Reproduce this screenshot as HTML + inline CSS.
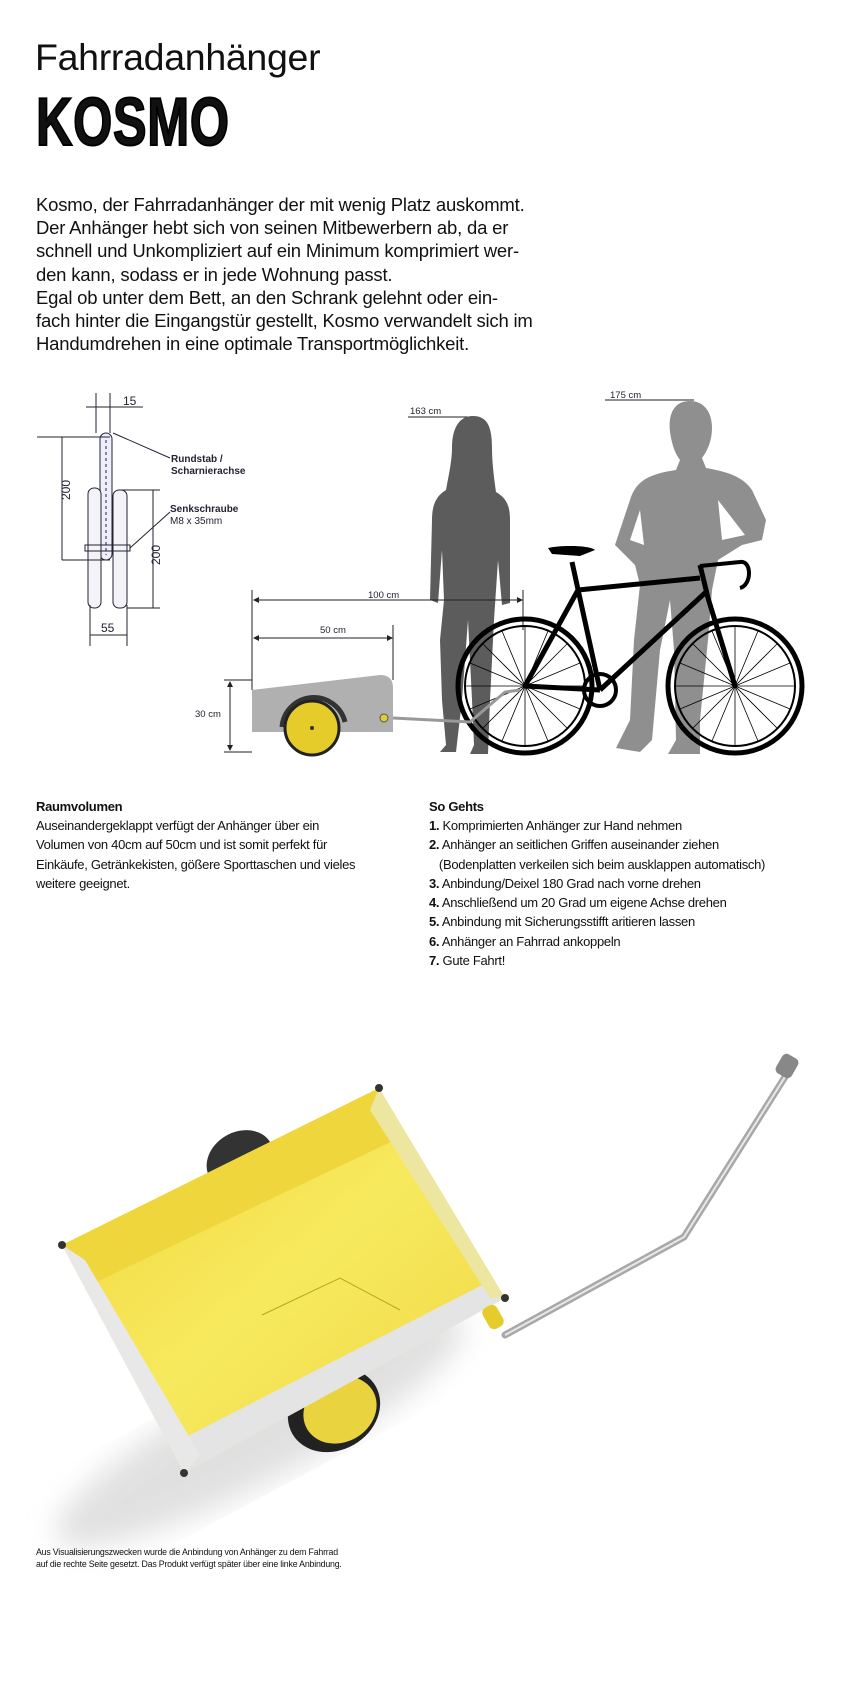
<!DOCTYPE html>
<html><head><meta charset="utf-8"><style>
html,body{margin:0;padding:0;background:#fff}
body{width:842px;height:1701px;position:relative;overflow:hidden;font-family:"Liberation Sans",sans-serif;color:#111}
.a{position:absolute;white-space:nowrap}
.p{font-size:18.5px;line-height:23.2px;left:36px;top:193px;letter-spacing:-0.2px}
.s{font-size:13px;line-height:19.3px;letter-spacing:-0.3px}
.b{font-weight:bold}
</style></head><body>
<div class="a" style="left:35px;top:36px;font-size:37.5px;letter-spacing:-0.3px">Fahrradanhänger</div>
<div class="a b" style="left:36px;top:88px;font-size:68px;line-height:68px;transform:scaleX(0.74);transform-origin:left top;-webkit-text-stroke:2px #000;letter-spacing:1px">KOSMO</div>
<div class="a p">Kosmo, der Fahrradanhänger der mit wenig Platz auskommt.<br>Der Anhänger hebt sich von seinen Mitbewerbern ab, da er<br>schnell und Unkompliziert auf ein Minimum komprimiert wer-<br>den kann, sodass er in jede Wohnung passt.<br>Egal ob unter dem Bett, an den Schrank gelehnt oder ein-<br>fach hinter die Eingangstür gestellt, Kosmo verwandelt sich im<br>Handumdrehen in eine optimale Transportmöglichkeit.</div>

<svg class="a" style="left:0;top:0" width="842" height="1701" viewBox="0 0 842 1701">
<defs>
<filter id="bl"><feGaussianBlur stdDeviation="14"/></filter>
<linearGradient id="yl" x1="0" y1="0" x2="1" y2="1"><stop offset="0" stop-color="#f2d63a"/><stop offset="0.5" stop-color="#f7e95e"/><stop offset="1" stop-color="#eed640"/></linearGradient>
</defs>
<g stroke="#223" stroke-width="1" fill="none">
<line x1="96" y1="393" x2="96" y2="433"/><line x1="110" y1="393" x2="110" y2="433"/>
<line x1="86" y1="407" x2="143" y2="407"/>
<rect x="100" y="433" width="12" height="127" rx="6" fill="#eef"/>
<line x1="106" y1="440" x2="106" y2="555" stroke-dasharray="3 3"/>
<rect x="88" y="488" width="13" height="120" rx="6" fill="#f4f4f8"/>
<rect x="113" y="490" width="14" height="118" rx="6" fill="#f4f4f8"/>
<rect x="85" y="545" width="45" height="6"/>
<line x1="37" y1="437" x2="110" y2="437"/><line x1="62" y1="437" x2="62" y2="560"/><line x1="62" y1="560" x2="110" y2="560"/>
<line x1="120" y1="490" x2="160" y2="490"/><line x1="153" y1="490" x2="153" y2="608"/><line x1="127" y1="608" x2="160" y2="608"/>
<line x1="90" y1="605" x2="90" y2="646"/><line x1="127" y1="605" x2="127" y2="646"/><line x1="90" y1="635" x2="127" y2="635"/>
<line x1="113" y1="433" x2="170" y2="458"/><line x1="130" y1="548" x2="170" y2="512"/>
</g>
<g font-family="Liberation Sans,sans-serif" fill="#223">
<text x="123" y="405" font-size="12">15</text>
<text x="60" y="510" font-size="12" transform="rotate(-90 60 500)">200</text>
<text x="150" y="575" font-size="12" transform="rotate(-90 150 565)">200</text>
<text x="101" y="632" font-size="12">55</text>
<text x="171" y="462" font-size="10" font-weight="bold">Rundstab /</text>
<text x="171" y="474" font-size="10" font-weight="bold">Scharnierachse</text>
<text x="170" y="512" font-size="10" font-weight="bold">Senkschraube</text>
<text x="170" y="524" font-size="10">M8 x 35mm</text>
<text x="410" y="414" font-size="9.5">163 cm</text>
<text x="610" y="398" font-size="9.5">175 cm</text>
<text x="368" y="598" font-size="9.5">100 cm</text>
<text x="320" y="633" font-size="9.5">50 cm</text>
<text x="195" y="717" font-size="9.5">30 cm</text>
</g>
<g stroke="#222" stroke-width="1"><line x1="408" y1="417" x2="477" y2="417"/><line x1="605" y1="400" x2="694" y2="400"/></g>
<path fill="#5c5c5c" d="M473 416 C458 416 452 430 452 448 C452 462 448 478 446 490 C436 496 432 505 432 520 L430 600 L438 603 L442 550 L444 600 L440 640 L442 700 L446 745 L440 752 L456 752 L462 700 L468 620 L472 700 L474 745 L470 754 L488 754 L490 700 L494 620 L498 560 L502 605 L510 603 L510 520 C510 505 506 498 496 492 C494 478 492 462 492 448 C492 428 488 416 473 416Z"/>
<path fill="#8f8f8f" d="M690 401 C674 401 668 414 670 432 C672 446 676 455 680 460 L676 470 C650 474 636 480 630 500 L615 545 L635 565 L640 585 L634 640 L630 720 L616 748 L640 752 L652 740 L660 650 L670 600 L674 650 L676 740 L668 754 L700 754 L700 720 L708 640 L712 590 L718 560 L742 545 L762 540 L766 520 L752 490 C744 478 730 472 706 468 L702 458 C708 450 712 440 712 428 C712 412 704 401 690 401Z M640 510 L644 545 L630 540Z M718 500 L745 535 L722 540Z" fill-rule="evenodd"/>
<g stroke="#222" stroke-width="1"><line x1="252" y1="590" x2="252" y2="690"/><line x1="393" y1="625" x2="393" y2="680"/><line x1="523" y1="590" x2="523" y2="630"/>
<line x1="255" y1="600" x2="521" y2="600"/><line x1="255" y1="638" x2="391" y2="638"/>
<line x1="230" y1="683" x2="230" y2="749"/><line x1="224" y1="680" x2="252" y2="680"/><line x1="224" y1="752" x2="252" y2="752"/></g>
<g fill="#222"><path d="M253 600 l6 -3 v6z M523 600 l-6 -3 v6z M253 638 l6 -3 v6z M393 638 l-6 -3 v6z M230 681 l-3 6 h6z M230 751 l-3 -6 h6z"/></g>
<g fill="none" stroke="#000">
<circle cx="525" cy="686" r="67" stroke-width="5"/><circle cx="525" cy="686" r="60" stroke-width="2"/>
<circle cx="735" cy="686" r="67" stroke-width="5"/><circle cx="735" cy="686" r="60" stroke-width="2"/>
<g stroke-width="0.8">
<path d="M525 626 V746 M465 686 H585 M483 644 L567 728 M567 644 L483 728 M502 631 L548 741 M548 631 L502 741 M470 663 L580 709 M580 663 L470 709"/>
<path d="M735 626 V746 M675 686 H795 M693 644 L777 728 M777 644 L693 728 M712 631 L758 741 M758 631 L712 741 M680 663 L790 709 M790 663 L680 709"/>
</g>
<g stroke-width="5"><path d="M600 690 L572 562 M578 590 L700 578 M600 690 L706 592 M600 690 L525 686 M578 590 L525 686 M700 565 L708 598 L735 686"/></g>
<path d="M700 566 L740 562 C752 560 752 585 740 588" stroke-width="4"/>
<circle cx="600" cy="690" r="16" stroke-width="4"/>
</g>
<path d="M548 548 C560 545 590 545 595 550 L580 556 L552 554Z" fill="#000"/>
<path d="M252 690 L380 675 Q393 675 393 688 L393 732 L252 732Z" fill="#b0b0b0"/>
<path d="M282 727 A32 32 0 0 1 345 722" stroke="#333" stroke-width="5" fill="none"/>
<circle cx="312" cy="728" r="27" fill="#e6cc2a" stroke="#222" stroke-width="3"/>
<circle cx="312" cy="728" r="2" fill="#333"/>
<circle cx="384" cy="718" r="4" fill="#e6cc2a" stroke="#555"/>
<path d="M393 718 L470 722 L505 692 L520 690" stroke="#999" stroke-width="3" fill="none"/>
<ellipse cx="260" cy="1430" rx="230" ry="50" fill="#d4d4d4" filter="url(#bl)" transform="rotate(-28 260 1430)" opacity="0.7"/>
<path d="M505 1335 L684 1237 L790 1069" stroke="#a8a8a8" stroke-width="7" fill="none" stroke-linecap="round"/>
<path d="M505 1335 L684 1237 L790 1069" stroke="#e8e8e8" stroke-width="2" fill="none"/>
<rect x="778" y="1055" width="18" height="22" rx="5" fill="#888" transform="rotate(30 787 1066)"/>
<ellipse cx="334" cy="1410" rx="48" ry="40" fill="#222" transform="rotate(-30 334 1410)"/>
<ellipse cx="340" cy="1410" rx="38" ry="32" fill="#e9d440" transform="rotate(-30 340 1410)"/>
<ellipse cx="240" cy="1160" rx="35" ry="28" fill="#333" transform="rotate(-30 240 1160)"/>
<path d="M62 1245 L379 1088 L505 1298 L184 1473Z" fill="url(#yl)"/>
<path d="M62 1245 L379 1088 L395 1140 L90 1285Z" fill="#efd63c"/>
<path d="M184 1473 L505 1298 L492 1280 L180 1440Z" fill="#e4e4e4"/>
<path d="M62 1245 L184 1473 L200 1455 L85 1260Z" fill="#e8e8e8"/>
<path d="M379 1088 L505 1298 L490 1298 L370 1110Z" fill="#ede6a0"/>
<path d="M262 1315 L340 1278 L400 1310" stroke="#b9a522" fill="none"/>
<rect x="485" y="1305" width="16" height="24" rx="6" fill="#e6cc2a" transform="rotate(-30 493 1317)"/>
<g fill="#333"><circle cx="62" cy="1245" r="4"/><circle cx="379" cy="1088" r="4"/><circle cx="505" cy="1298" r="4"/><circle cx="184" cy="1473" r="4"/></g>
</svg>

<div class="a s b" style="left:36px;top:797px">Raumvolumen</div>
<div class="a s" style="left:36px;top:816px">Auseinandergeklappt verfügt der Anhänger über ein<br>Volumen von 40cm auf 50cm und ist somit perfekt für<br>Einkäufe, Getränkekisten, gößere Sporttaschen und vieles<br>weitere geeignet.</div>
<div class="a s b" style="left:429px;top:797px">So Gehts</div>
<div class="a s" style="left:429px;top:816px"><b>1.</b> Komprimierten Anhänger zur Hand nehmen<br><b>2.</b> Anhänger an seitlichen Griffen auseinander ziehen<br>&nbsp;&nbsp;&nbsp;(Bodenplatten verkeilen sich beim ausklappen automatisch)<br><b>3.</b> Anbindung/Deixel 180 Grad nach vorne drehen<br><b>4.</b> Anschließend um 20 Grad um eigene Achse drehen<br><b>5.</b> Anbindung mit Sicherungsstifft aritieren lassen<br><b>6.</b> Anhänger an Fahrrad ankoppeln<br><b>7.</b> Gute Fahrt!</div>
<div class="a" style="left:36px;top:1547px;font-size:8.8px;line-height:11.5px;letter-spacing:-0.2px">Aus Visualisierungszwecken wurde die Anbindung von Anhänger zu dem Fahrrad<br>auf die rechte Seite gesetzt. Das Produkt verfügt später über eine linke Anbindung.</div>
</body></html>
